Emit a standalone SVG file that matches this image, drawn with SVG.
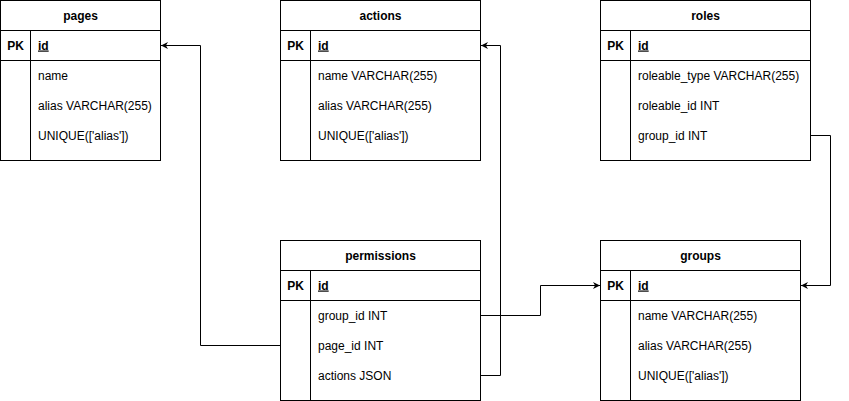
<svg xmlns="http://www.w3.org/2000/svg" width="849" height="401" viewBox="0 0 849 401">
  <defs>
    <style>
      .box { fill: #ffffff; stroke: #000000; stroke-width: 1; }
      .ln { fill: none; stroke: #000000; stroke-width: 1; }
      .title { font-family: "Liberation Sans", Arial, sans-serif; font-size: 12px; font-weight: bold; fill: #000; text-anchor: middle; }
      .pk { font-family: "Liberation Sans", Arial, sans-serif; font-size: 12px; font-weight: bold; fill: #000; text-anchor: middle; }
      .key { font-family: "Liberation Sans", Arial, sans-serif; font-size: 12px; font-weight: bold; fill: #000; text-decoration: underline; }
      .fld { font-family: "Liberation Sans", Arial, sans-serif; font-size: 12px; fill: #000; }
      .edge { fill: none; stroke: #000000; stroke-width: 1; }
    </style>
    <marker id="arrow" viewBox="0 0 10 10" refX="10" refY="5" markerWidth="7" markerHeight="7" orient="auto" markerUnits="userSpaceOnUse">
      <path d="M0,0 L10,5 L0,10 L3,5 Z" fill="#000"/>
    </marker>
  </defs>

  <!-- pages -->
  <g id="pages">
    <rect class="box" x="0.5" y="0.5" width="160" height="160"/>
    <path class="ln" d="M0.5,30.5 H160.5 M0.5,60.5 H160.5 M30.5,30.5 V160.5"/>
    <text class="title" x="80.5" y="19.5">pages</text>
    <text class="pk" x="15.5" y="49.5">PK</text>
    <text class="key" x="38" y="49.5">id</text>
    <text class="fld" x="38" y="79.5">name</text>
    <text class="fld" x="38" y="109.5">alias VARCHAR(255)</text>
    <text class="fld" x="38" y="139.5">UNIQUE(['alias'])</text>
  </g>

  <!-- actions -->
  <g id="actions">
    <rect class="box" x="280.5" y="0.5" width="200" height="160"/>
    <path class="ln" d="M280.5,30.5 H480.5 M280.5,60.5 H480.5 M310.5,30.5 V160.5"/>
    <text class="title" x="380.5" y="19.5">actions</text>
    <text class="pk" x="295.5" y="49.5">PK</text>
    <text class="key" x="318" y="49.5">id</text>
    <text class="fld" x="318" y="79.5">name VARCHAR(255)</text>
    <text class="fld" x="318" y="109.5">alias VARCHAR(255)</text>
    <text class="fld" x="318" y="139.5">UNIQUE(['alias'])</text>
  </g>

  <!-- roles -->
  <g id="roles">
    <rect class="box" x="600.5" y="0.5" width="210" height="160"/>
    <path class="ln" d="M600.5,30.5 H810.5 M600.5,60.5 H810.5 M630.5,30.5 V160.5"/>
    <text class="title" x="705.5" y="19.5">roles</text>
    <text class="pk" x="615.5" y="49.5">PK</text>
    <text class="key" x="638" y="49.5">id</text>
    <text class="fld" x="638" y="79.5">roleable_type VARCHAR(255)</text>
    <text class="fld" x="638" y="109.5">roleable_id INT</text>
    <text class="fld" x="638" y="139.5">group_id INT</text>
  </g>

  <!-- permissions -->
  <g id="permissions">
    <rect class="box" x="280.5" y="240.5" width="200" height="160"/>
    <path class="ln" d="M280.5,270.5 H480.5 M280.5,300.5 H480.5 M310.5,270.5 V400.5"/>
    <text class="title" x="380.5" y="259.5">permissions</text>
    <text class="pk" x="295.5" y="289.5">PK</text>
    <text class="key" x="318" y="289.5">id</text>
    <text class="fld" x="318" y="319.5">group_id INT</text>
    <text class="fld" x="318" y="349.5">page_id INT</text>
    <text class="fld" x="318" y="379.5">actions JSON</text>
  </g>

  <!-- groups -->
  <g id="groups">
    <rect class="box" x="600.5" y="240.5" width="200" height="160"/>
    <path class="ln" d="M600.5,270.5 H800.5 M600.5,300.5 H800.5 M630.5,270.5 V400.5"/>
    <text class="title" x="700.5" y="259.5">groups</text>
    <text class="pk" x="615.5" y="289.5">PK</text>
    <text class="key" x="638" y="289.5">id</text>
    <text class="fld" x="638" y="319.5">name VARCHAR(255)</text>
    <text class="fld" x="638" y="349.5">alias VARCHAR(255)</text>
    <text class="fld" x="638" y="379.5">UNIQUE(['alias'])</text>
  </g>

  <!-- relations -->
  <g id="connectors">
    <path class="edge" d="M280.5,345.5 H200.5 V45.5 H161" marker-end="url(#arrow)"/>
    <path class="edge" d="M480.5,375.5 H500.5 V45.5 H481" marker-end="url(#arrow)"/>
    <path class="edge" d="M480.5,315.5 H540.5 V285.5 H600" marker-end="url(#arrow)"/>
    <path class="edge" d="M810.5,135.5 H830.5 V285.5 H801" marker-end="url(#arrow)"/>
  </g>
</svg>
